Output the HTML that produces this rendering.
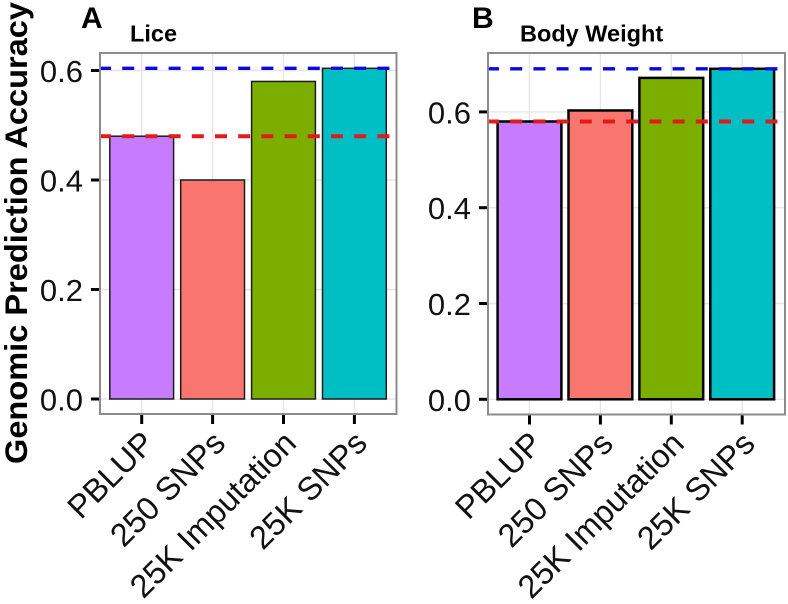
<!DOCTYPE html>
<html>
<head>
<meta charset="utf-8">
<title>Genomic Prediction Accuracy</title>
<style>
html,body{margin:0;padding:0;background:#fff;}
svg{display:block;font-family:"Liberation Sans",sans-serif;}
</style>
</head>
<body>
<svg id="chart" width="788" height="604" viewBox="0 0 788 604" xmlns="http://www.w3.org/2000/svg">
<text transform="translate(27,464) rotate(-90)" font-size="31.5" font-weight="bold" textLength="462" lengthAdjust="spacingAndGlyphs" fill="#000">Genomic Prediction Accuracy</text>
</svg>
<script>
var categories = ["PBLUP", "250 SNPs", "25K Imputation", "25K SNPs"];
var barColors = ["#C77CFF", "#F8766D", "#7CAE00", "#00BFC4"];
var liceValues = [0.48, 0.40, 0.58, 0.604];
var weightValues = [0.58, 0.603, 0.671, 0.69];
var liceTicks = [0.0, 0.2, 0.4, 0.6];
var weightTicks = [0.0, 0.2, 0.4, 0.6];
var liceBlueLine = 0.604;
var liceRedLine = 0.48;
var weightBlueLine = 0.69;
var weightRedLine = 0.58;

var svg = document.getElementById('chart');
var NS = 'http://www.w3.org/2000/svg';

function add(tag, attrs, parent) {
  var el = document.createElementNS(NS, tag);
  for (var k in attrs) el.setAttribute(k, attrs[k]);
  (parent || svg).appendChild(el);
  return el;
}

function drawPanel(cfg) {
  var panel = add('g', {});
  
  

  function yScale(v) { return cfg.y0 - v * cfg.pxPerUnit; }
  function xScale(i) { return cfg.x0 + i * cfg.step; }

  // panel background
  var bg = add('rect', {x: cfg.left, y: cfg.top, width: cfg.right - cfg.left, height: cfg.bottom - cfg.top, fill: '#fff'}, panel);
  
  

  // gridlines
  cfg.ticks.forEach(function (t) {
    var g = add('line', {x1: cfg.left, x2: cfg.right, y1: yScale(t), y2: yScale(t), stroke: '#e6e6ea', 'stroke-width': 1.4}, panel);
    
    
  });
  categories.forEach(function (c, i) {
    var g = add('line', {x1: xScale(i), x2: xScale(i), y1: cfg.top, y2: cfg.bottom, stroke: '#e6e6ea', 'stroke-width': 1.4}, panel);
    
    
  });

  // bars
  cfg.values.forEach(function (v, i) {
    var w = cfg.step * 0.9;
    var b = add('rect', {x: xScale(i) - w / 2, y: yScale(v), width: w, height: yScale(0) - yScale(v), fill: barColors[i], stroke: cfg.barStroke, 'stroke-width': cfg.barStrokeWidth}, panel);
    
    
  });

  // reference lines
  var blue = add('line', {x1: cfg.left, x2: cfg.lineEnd, y1: yScale(cfg.blue), y2: yScale(cfg.blue), stroke: '#0a0ae0', 'stroke-width': 3.3, 'stroke-dasharray': '12 11.2', 'stroke-dashoffset': 1}, panel);
  
  
  var red = add('line', {x1: cfg.left, x2: cfg.lineEnd, y1: yScale(cfg.red), y2: yScale(cfg.red), stroke: '#e31a1c', 'stroke-width': 4, 'stroke-dasharray': '12 11.2', 'stroke-dashoffset': 1}, panel);
  
  

  // border
  var border = add('rect', {x: cfg.left, y: cfg.top, width: cfg.right - cfg.left, height: cfg.bottom - cfg.top, fill: 'none', stroke: '#8c8c8c', 'stroke-width': 2}, panel);
  
  

  // y ticks
  cfg.ticks.forEach(function (t) {
    var m = add('line', {x1: cfg.left - 9, x2: cfg.left - 1, y1: yScale(t), y2: yScale(t), stroke: '#000', 'stroke-width': 3}, panel);
    
    
    var l = add('text', {x: cfg.left - 17, y: yScale(t) + 11.5, 'text-anchor': 'end', 'font-size': 31, fill: '#111'}, panel);
    l.textContent = t.toFixed(1);
    
    
  });

  // x ticks
  categories.forEach(function (c, i) {
    var m = add('line', {x1: xScale(i), x2: xScale(i), y1: cfg.bottom + 1, y2: cfg.bottom + 10, stroke: '#000', 'stroke-width': 3}, panel);
    
    
    var px = xScale(i) + 14.5, py = cfg.bottom + 31;
    var l = add('text', {transform: 'translate(' + px + ',' + py + ') rotate(-45)', 'text-anchor': 'end', 'font-size': 32.5, fill: '#111'}, panel);
    l.textContent = c;
    
    
  });

  // titles
  var letter = add('text', {x: cfg.letterX, y: 28, 'font-size': 30, 'font-weight': 'bold', fill: '#000'}, panel);
  letter.textContent = cfg.letter;
  
  
  var title = add('text', {x: cfg.titleX, y: 41.5, 'font-size': 23.5, 'font-weight': 'bold', fill: '#000'}, panel);
  title.textContent = cfg.title;
  
  
}

drawPanel({
  id: 'lice', letter: 'A', title: 'Lice', letterX: 81, titleX: 130,
  left: 100, right: 396.5, top: 53, bottom: 414, lineEnd: 390,
  x0: 141.7, step: 70.9, y0: 399, pxPerUnit: 547.5,
  values: liceValues, ticks: liceTicks, blue: liceBlueLine, red: liceRedLine,
  barStroke: '#1c1c1c', barStrokeWidth: 1.5
});
drawPanel({
  id: 'body-weight', letter: 'B', title: 'Body Weight', letterX: 472, titleX: 520,
  left: 488, right: 785, top: 53, bottom: 414.5, lineEnd: 779,
  x0: 529.5, step: 70.9, y0: 399.3, pxPerUnit: 479,
  values: weightValues, ticks: weightTicks, blue: weightBlueLine, red: weightRedLine,
  barStroke: '#000', barStrokeWidth: 2.5
});
</script>
</body>
</html>
